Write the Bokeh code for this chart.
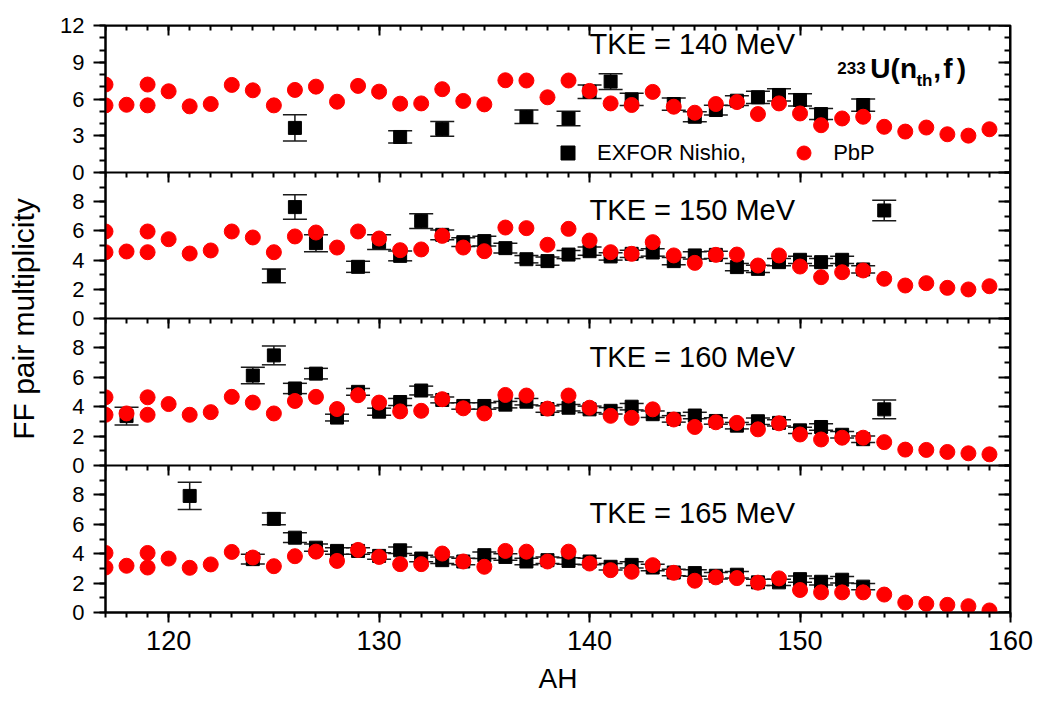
from bokeh.plotting import figure
from bokeh.models import (Range1d, LinearAxis, FixedTicker, CustomJSTickFormatter,
                          Whisker, TeeHead, ColumnDataSource, Label, Legend, LegendItem)
from bokeh.embed import file_html
from bokeh.resources import INLINE

# ---- PbP model: fragment-pair multiplicity vs heavy fragment mass ----
pbp_a = [117, 117, 118, 119, 119] + list(range(120, 160))
pbp_140 = [7.18, 5.48, 5.53, 7.18, 5.48,
           6.63, 5.40, 5.59, 7.15, 6.71, 5.48, 6.74, 7.01, 5.78, 7.07,
           6.60, 5.62, 5.64, 6.80, 5.84, 5.56, 7.53, 7.51, 6.14, 7.51,
           6.66, 5.64, 5.51, 6.58, 5.37, 4.88, 5.59, 5.75, 4.77, 5.64,
           4.82, 3.86, 4.41, 4.55, 3.73, 3.34, 3.67, 3.12, 3.01, 3.53]
pbp_150 = [5.96, 4.54, 4.59, 5.96, 4.54,
           5.43, 4.45, 4.66, 5.96, 5.55, 4.54, 5.62, 5.89, 4.86, 5.96,
           5.48, 4.68, 4.73, 5.66, 4.86, 4.61, 6.23, 6.19, 5.05, 6.14,
           5.34, 4.54, 4.43, 5.23, 4.32, 3.81, 4.36, 4.38, 3.63, 4.32,
           3.56, 2.83, 3.17, 3.29, 2.72, 2.26, 2.42, 2.10, 1.99, 2.21]
pbp_160 = [4.64, 3.45, 3.54, 4.64, 3.45,
           4.18, 3.45, 3.63, 4.67, 4.28, 3.54, 4.39, 4.67, 3.84, 4.78,
           4.28, 3.68, 3.72, 4.51, 3.89, 3.54, 4.80, 4.76, 3.87, 4.76,
           3.93, 3.38, 3.24, 3.82, 3.13, 2.62, 2.94, 2.90, 2.46, 2.87,
           2.11, 1.77, 1.89, 1.89, 1.59, 1.08, 1.06, 0.92, 0.83, 0.76]
pbp_165 = [4.05, 3.06, 3.18, 4.05, 3.06,
           3.67, 3.04, 3.27, 4.12, 3.74, 3.15, 3.83, 4.14, 3.51, 4.26,
           3.78, 3.29, 3.29, 4.01, 3.47, 3.11, 4.19, 4.14, 3.47, 4.14,
           3.33, 2.88, 2.77, 3.22, 2.70, 2.16, 2.39, 2.34, 2.03, 2.32,
           1.53, 1.37, 1.37, 1.37, 1.22, 0.68, 0.59, 0.52, 0.43, 0.14]

# ---- EXFOR (Nishio) measurements with uncertainties ----
exfor_a_140 = [126, 131, 133, 137, 139, 140, 141, 142, 144, 145, 146, 147, 148, 149, 150, 151, 153]
exfor_140 = [3.64, 2.90, 3.56, 4.55, 4.41, 6.60, 7.42, 5.97, 5.59, 4.55, 5.10, 5.86, 6.14, 6.33, 5.92, 4.77, 5.51]
exfor_err_140 = [1.07, 0.50, 0.60, 0.56, 0.60, 0.55, 0.65, 0.50, 0.50, 0.40, 0.40, 0.40, 0.50, 0.50, 0.50, 0.45, 0.50]

exfor_a_150 = [125, 126, 127] + list(range(129, 155))
exfor_150 = [2.92, 7.63, 5.16, 3.54, 5.23, 4.29, 6.67, 5.73, 5.23, 5.30, 4.82, 4.06, 3.93,
             4.38, 4.61, 4.25, 4.43, 4.52, 3.93, 4.32, 4.36, 3.52, 3.40, 3.86, 4.02, 3.86,
             4.02, 3.36, 7.40]
exfor_err_150 = [0.47, 0.84, 0.58, 0.38, 0.50, 0.34, 0.50, 0.34, 0.30, 0.33, 0.33, 0.25, 0.28,
                 0.28, 0.28, 0.25, 0.25, 0.25, 0.25, 0.25, 0.25, 0.25, 0.25, 0.25, 0.25, 0.25,
                 0.25, 0.25, 0.70]

exfor_a_160 = [118] + list(range(124, 155))
exfor_160 = [3.36, 6.12, 7.49, 5.24, 6.25, 3.26, 5.01, 3.66, 4.32, 5.10, 4.46, 4.05, 4.05,
             4.14, 4.34, 3.84, 3.93, 3.82, 3.72, 4.00, 3.49, 3.17, 3.40, 3.03, 2.71, 3.01,
             2.90, 2.39, 2.62, 2.09, 1.79, 3.82]
exfor_err_160 = [0.60, 0.56, 0.64, 0.35, 0.36, 0.23, 0.23, 0.24, 0.24, 0.30, 0.20, 0.22, 0.22,
                 0.22, 0.22, 0.22, 0.22, 0.22, 0.22, 0.22, 0.22, 0.22, 0.22, 0.22, 0.22, 0.22,
                 0.22, 0.22, 0.22, 0.22, 0.22, 0.64]

exfor_a_165 = [121] + list(range(124, 154))
exfor_165 = [7.93, 3.63, 6.37, 5.09, 4.41, 4.19, 4.19, 3.85, 4.23, 3.67, 3.56, 3.47, 3.90,
             3.78, 3.47, 3.56, 3.51, 3.47, 3.11, 3.24, 3.06, 2.72, 2.68, 2.50, 2.57, 2.05,
             2.05, 2.27, 2.09, 2.23, 1.76]
exfor_err_165 = [0.93, 0.33, 0.40, 0.33, 0.25, 0.22, 0.22, 0.22, 0.22, 0.22, 0.22, 0.22, 0.22,
                 0.22, 0.22, 0.22, 0.22, 0.22, 0.22, 0.22, 0.22, 0.22, 0.22, 0.22, 0.22, 0.22,
                 0.22, 0.22, 0.22, 0.22, 0.22]

tke_labels = ["TKE = 140 MeV", "TKE = 150 MeV", "TKE = 160 MeV", "TKE = 165 MeV"]
x_major = [120, 130, 140, 150, 160]

FONT = "Liberation Sans"
RED = "#ff0000"

# Four stacked bands inside one frame: (name, height px, y span, major ticks)
FRAME_H = 587
bands = [
    ("p140", 147, 12, [0, 3, 6, 9, 12]),
    ("p150", 146, 10, [0, 2, 4, 6, 8]),
    ("p160", 147, 10, [0, 2, 4, 6, 8]),
    ("p165", 147, 10, [0, 2, 4, 6, 8]),
]
ranges = {}
bottom = FRAME_H
for name, h, span, _ in bands:
    bottom -= h
    ranges[name] = Range1d(start=-bottom * span / h, end=(FRAME_H - bottom) * span / h)
base = ranges["p165"]


def to_base(name, v):
    r = ranges[name]
    f = (v - r.start) / (r.end - r.start)
    return base.start + f * (base.end - base.start)


p = figure(width=1037, height=702, x_range=Range1d(117, 160), y_range=base,
           output_backend="svg", toolbar_location=None,
           x_axis_location=None, y_axis_location=None,
           min_border_left=105, min_border_right=27, min_border_top=25, min_border_bottom=90)
p.extra_y_ranges = {k: v for k, v in ranges.items() if k != "p165"}
p.grid.visible = False
p.outline_line_color = "black"
p.outline_line_width = 2
p.background_fill_color = "white"
p.border_fill_color = "white"

blank = CustomJSTickFormatter(code="return ''")


def rname(name):
    return "default" if name == "p165" else name


def style_ticks(ax, major_in, major_out, minor_in, minor_out):
    ax.major_tick_in = major_in
    ax.major_tick_out = major_out
    ax.minor_tick_in = minor_in
    ax.minor_tick_out = minor_out
    ax.major_tick_line_width = 2
    ax.minor_tick_line_width = 2
    ax.axis_line_width = 2
    ax.axis_line_color = "black"
    ax.major_tick_line_color = "black"
    ax.minor_tick_line_color = "black"


# one left axis carrying the ticks of all four bands
left_pos, left_lab, left_minor = [], [], []
for name, h, span, majors in bands:
    for v in majors:
        left_pos.append(to_base(name, v))
        left_lab.append(str(v))
    for v in range(0, span + 1):
        left_minor.append(to_base(name, v))
left_fmt = CustomJSTickFormatter(args=dict(pos=left_pos, lab=left_lab), code="""
let best = 0, d = Infinity;
for (let i = 0; i < pos.length; i++) {
  const dd = Math.abs(pos[i] - tick);
  if (dd < d) { d = dd; best = i; }
}
return lab[best];
""")
left = LinearAxis(ticker=FixedTicker(ticks=left_pos, minor_ticks=left_minor), formatter=left_fmt)
style_ticks(left, 0, 12, 0, 6)
left.major_label_text_font = FONT
left.major_label_text_font_size = "22px"
left.major_label_text_color = "black"
left.major_label_standoff = 9
left.axis_label = "FF pair multiplicity"
left.axis_label_text_font = FONT
left.axis_label_text_font_size = "30px"
left.axis_label_text_font_style = "normal"
left.axis_label_text_color = "black"
left.axis_label_standoff = 17
p.add_layout(left, "left")

series = [
    (pbp_140, exfor_a_140, exfor_140, exfor_err_140),
    (pbp_150, exfor_a_150, exfor_150, exfor_err_150),
    (pbp_160, exfor_a_160, exfor_160, exfor_err_160),
    (pbp_165, exfor_a_165, exfor_165, exfor_err_165),
]

legend_renderers = None
for i, ((name, h, span, majors), (pbp, ea, ev, ee)) in enumerate(zip(bands, series)):
    yr = rname(name)
    minors = list(range(0, span + 1))

    # right edge ticks of the band
    right = LinearAxis(y_range_name=yr, fixed_location=160, formatter=blank,
                       ticker=FixedTicker(ticks=majors, minor_ticks=minors))
    style_ticks(right, 12, 0, 6, 0)
    p.add_layout(right, "right")

    # top edge of every band, ticks pointing down
    top = LinearAxis(y_range_name=yr, fixed_location=span, formatter=blank,
                     ticker=FixedTicker(ticks=x_major, minor_ticks=list(range(117, 161))))
    style_ticks(top, 10, 0, 5, 0)
    p.add_layout(top, "above")

    # EXFOR points with error bars
    esrc = ColumnDataSource(dict(a=ea, v=ev,
                                 lo=[v - e for v, e in zip(ev, ee)],
                                 hi=[v + e for v, e in zip(ev, ee)]))
    wk = Whisker(base="a", lower="lo", upper="hi", source=esrc, dimension="height",
                 y_range_name=yr, line_color="#1a1a1a", line_width=1.5,
                 upper_head=TeeHead(size=24, line_color="#1a1a1a", line_width=1.5),
                 lower_head=TeeHead(size=24, line_color="#1a1a1a", line_width=1.5))
    p.add_layout(wk)
    sq = p.scatter("a", "v", source=esrc, marker="square", size=13, color="black",
                   y_range_name=yr)

    # PbP points
    psrc = ColumnDataSource(dict(a=pbp_a, v=pbp))
    ci = p.scatter("a", "v", source=psrc, marker="circle", size=15, color=RED,
                   y_range_name=yr)

    if i == 0:
        legend_renderers = (sq, ci)

    tke_y = [10.5, 7.4, 7.35, 6.8][i]
    p.add_layout(Label(x=140, y=tke_y, y_range_name=yr, text=tke_labels[i],
                       text_font=FONT, text_font_size="29px", text_baseline="middle",
                       text_align="left", text_color="black"))

# bottom axis with labels and title
bottom_ax = LinearAxis(ticker=FixedTicker(ticks=x_major, minor_ticks=list(range(117, 161))))
style_ticks(bottom_ax, 0, 10, 0, 5)
bottom_ax.major_label_text_font = FONT
bottom_ax.major_label_text_font_size = "27px"
bottom_ax.major_label_text_color = "black"
bottom_ax.major_label_standoff = 8
bottom_ax.axis_label = "AH"
bottom_ax.axis_label_text_font = FONT
bottom_ax.axis_label_text_font_size = "28px"
bottom_ax.axis_label_text_font_style = "normal"
bottom_ax.axis_label_text_color = "black"
bottom_ax.axis_label_standoff = 10
p.add_layout(bottom_ax, "below")

# reaction label: 233U(n_th,f)
for txt, x, y, size in [("233", 151.77, 8.49, "17px"), ("U(n", 153.34, 8.49, "28px"),
                        ("th", 155.53, 7.51, "17px"), (",", 156.33, 8.49, "28px"),
                        ("f", 156.81, 8.49, "28px"), (")", 157.45, 8.49, "28px")]:
    p.add_layout(Label(x=x, y=y, y_range_name="p140", text=txt, text_font=FONT,
                       text_font_size=size, text_font_style="bold",
                       text_baseline="alphabetic", text_align="left", text_color="black"))

legend = Legend(items=[LegendItem(label="EXFOR Nishio,", renderers=[legend_renderers[0]]),
                       LegendItem(label="PbP", renderers=[legend_renderers[1]])],
                orientation="horizontal", location=(445, 442),
                padding=0, margin=0, spacing=40, label_standoff=12,
                glyph_width=35, glyph_height=35,
                label_text_font=FONT, label_text_font_size="22px",
                label_text_color="black",
                background_fill_alpha=0, border_line_alpha=0)
p.add_layout(legend, "center")

open("out.html", "w").write(file_html(p, INLINE))
